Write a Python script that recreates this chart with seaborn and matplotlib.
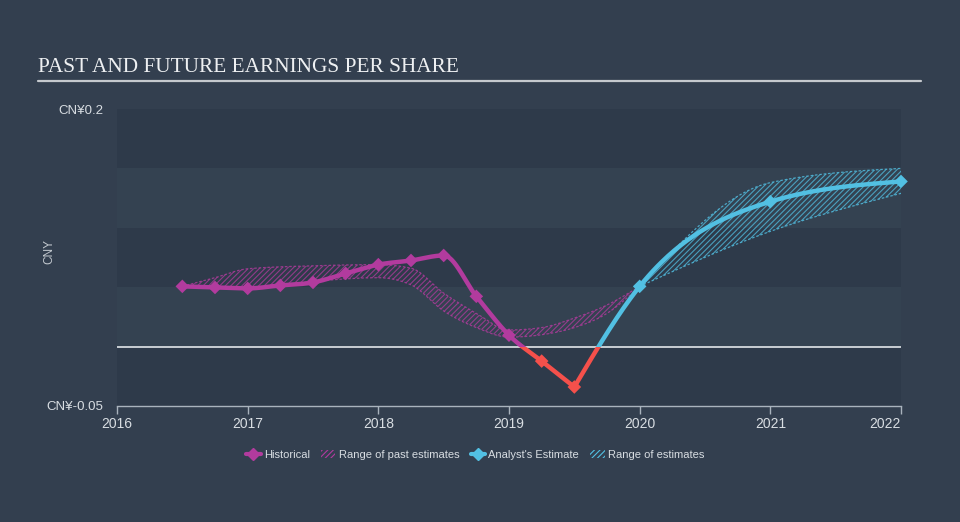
import numpy as np
import pandas as pd
import matplotlib
matplotlib.use("Agg")
import matplotlib.pyplot as plt
from matplotlib.lines import Line2D
from matplotlib.patches import Patch, Rectangle
import seaborn as sns

# ---------------- data ----------------
hist_x = [2016.5, 2016.75, 2017.0, 2017.25, 2017.5, 2017.75, 2018.0, 2018.25,
          2018.5, 2018.75, 2019.0, 2019.25, 2019.5]
hist_y = [0.0507, 0.0498, 0.049, 0.0515, 0.054, 0.0616, 0.069, 0.0725,
          0.0767, 0.0423, 0.0096, -0.0122, -0.034]

est_x = [2019.5, 2020.0, 2021.0, 2022.0]
est_y = [-0.034, 0.0507, 0.122, 0.139]

past_rng_x = [2016.5, 2016.75, 2017.0, 2017.5, 2018.0, 2018.25, 2018.5, 2018.75,
              2019.0, 2019.25, 2019.5, 2019.75, 2020.0]
past_rng_low = [0.0507, 0.050, 0.050, 0.055, 0.058, 0.052, 0.030, 0.016,
                0.008, 0.010, 0.016, 0.028, 0.0507]
past_rng_high = [0.0507, 0.058, 0.0655, 0.068, 0.069, 0.066, 0.045, 0.028,
                 0.014, 0.016, 0.024, 0.035, 0.0507]

fut_rng_x = [2020.0, 2021.0, 2022.0]
fut_rng_low = [0.0507, 0.097, 0.129]
fut_rng_high = [0.0507, 0.138, 0.150]

x_ticks = [2016, 2017, 2018, 2019, 2020, 2021, 2022]
y_ticks = [-0.05, 0.2]
y_tick_labels = ["CN¥-0.05", "CN¥0.2"]

title = "PAST AND FUTURE EARNINGS PER SHARE"
legend_labels = ["Historical", "Range of past estimates", "Analyst's Estimate", "Range of estimates"]

# ---------------- helpers ----------------
def monotone_x(x, y, n_per=60):
    """d3-style curveMonotoneX sampling through the given points."""
    x = np.asarray(x, float); y = np.asarray(y, float)
    n = len(x)
    if n < 3:
        return np.linspace(x[0], x[-1], n_per), np.linspace(y[0], y[-1], n_per)
    t = np.zeros(n)
    for i in range(1, n - 1):
        h0 = x[i] - x[i - 1]; h1 = x[i + 1] - x[i]
        s0 = (y[i] - y[i - 1]) / h0; s1 = (y[i + 1] - y[i]) / h1
        p = (s0 * h1 + s1 * h0) / (h0 + h1)
        t[i] = (np.sign(s0) + np.sign(s1)) * min(abs(s0), abs(s1), 0.5 * abs(p))
    h = x[1] - x[0]
    t[0] = (3 * (y[1] - y[0]) / h - t[1]) / 2
    h = x[-1] - x[-2]
    t[-1] = (3 * (y[-1] - y[-2]) / h - t[-2]) / 2
    xs, ys = [], []
    for i in range(n - 1):
        hh = x[i + 1] - x[i]
        s = np.linspace(0, 1, n_per, endpoint=(i == n - 2))
        h00 = 2 * s**3 - 3 * s**2 + 1
        h10 = s**3 - 2 * s**2 + s
        h01 = -2 * s**3 + 3 * s**2
        h11 = s**3 - s**2
        xs.append(x[i] + s * hh)
        ys.append(h00 * y[i] + h10 * hh * t[i] + h01 * y[i + 1] + h11 * hh * t[i + 1])
    return np.concatenate(xs), np.concatenate(ys)

# ---------------- style ----------------
BG = "#333f4f"
BAND_DARK = "#2e3a4a"
BAND_LIGHT = "#344251"
MAG = "#b23b9e"
BLUE = "#52c0e3"
RED = "#f5504b"
TXT = "#d8dde2"
AXC = "#a9b3bd"

sns.set_theme(style="dark")
plt.rcParams["font.family"] = ["Liberation Sans", "DejaVu Sans"]
plt.rcParams["hatch.linewidth"] = 0.8

fig = plt.figure(figsize=(9.6, 5.22), dpi=100, facecolor=BG)
ax = fig.add_axes([117 / 960, 1 - 406 / 522, (901 - 117) / 960, (406 - 109) / 522])
ax.set_facecolor(BG)

x0, x1 = 2016, 2022
y0, y1 = -0.05, 0.2
ax.set_xlim(x0, x1)
ax.set_ylim(y0, y1)

# background bands
for i, lo in enumerate(np.arange(-0.05, 0.2, 0.05)):
    ax.axhspan(lo, lo + 0.05, color=BAND_DARK if i % 2 == 0 else BAND_LIGHT, lw=0, zorder=0)

# zero line
ax.axhline(0, color="#c9ced3", lw=1.4, zorder=1)

# ranges
for rx, rl, rh, col in [(past_rng_x, past_rng_low, past_rng_high, MAG),
                        (fut_rng_x, fut_rng_low, fut_rng_high, BLUE)]:
    sx, sl = monotone_x(rx, rl)
    _, sh = monotone_x(rx, rh)
    ax.fill_between(sx, sl, sh, facecolor="none", edgecolor=col, hatch="//////",
                    lw=0, alpha=0.75, zorder=2)
    df_l = pd.DataFrame({"x": sx, "y": sl})
    df_h = pd.DataFrame({"x": sx, "y": sh})
    sns.lineplot(data=df_l, x="x", y="y", ax=ax, color=col, lw=0.9, alpha=0.8,
                 sort=False, estimator=None, zorder=2, linestyle=(0, (2, 1.5)))
    sns.lineplot(data=df_h, x="x", y="y", ax=ax, color=col, lw=0.9, alpha=0.8,
                 sort=False, estimator=None, zorder=2, linestyle=(0, (2, 1.5)))

pos_clip = Rectangle((x0 - 1, 0), (x1 - x0) + 2, 1, transform=ax.transData)
neg_clip = Rectangle((x0 - 1, -1), (x1 - x0) + 2, 1, transform=ax.transData)

# main lines
hx, hy = monotone_x(hist_x, hist_y)
ex, ey = monotone_x(est_x, est_y)
for cx, cy, col in [(hx, hy, MAG), (ex, ey, BLUE)]:
    df = pd.DataFrame({"x": cx, "y": cy})
    sns.lineplot(data=df, x="x", y="y", ax=ax, color=col, lw=3.2, sort=False,
                 estimator=None, zorder=4)
    ax.lines[-1].set_clip_path(pos_clip)
    ax.lines[-1].set_solid_capstyle("round")
    sns.lineplot(data=df, x="x", y="y", ax=ax, color=RED, lw=3.2, sort=False,
                 estimator=None, zorder=4)
    ax.lines[-1].set_clip_path(neg_clip)
    ax.lines[-1].set_solid_capstyle("round")

# markers
mk_h = pd.DataFrame({"x": hist_x, "y": hist_y})
mk_h["c"] = np.where(mk_h["y"] < 0, RED, MAG)
mk_e = pd.DataFrame({"x": est_x[1:], "y": est_y[1:]})
for df, default in [(mk_h, None), (mk_e, BLUE)]:
    cols = df["c"].tolist() if "c" in df else [default] * len(df)
    sns.scatterplot(data=df, x="x", y="y", ax=ax, marker="D", s=48,
                    c=cols, linewidth=0, zorder=5)
    ax.collections[-1].set_clip_on(False)

# axes styling
for s in ["top", "right", "left"]:
    ax.spines[s].set_visible(False)
ax.spines["bottom"].set_color(AXC)
ax.spines["bottom"].set_linewidth(1.0)
ax.set_xticks(x_ticks)
ax.set_xticklabels([str(v) for v in x_ticks])
ax.tick_params(axis="x", colors=AXC, length=6, width=1, direction="out",
               labelcolor=TXT, labelsize=10, pad=2, bottom=True)
xl = ax.get_xticklabels()
xl[-1].set_horizontalalignment("right")
ax.set_yticks(y_ticks)
ax.set_yticklabels(y_tick_labels)
ax.tick_params(axis="y", length=0, labelcolor=TXT, labelsize=9.5, pad=10)
ax.grid(False)
ax.set_xlabel("")
ax.set_ylabel("CNY", color="#c3c9cf", fontsize=8.5)
ax.yaxis.set_label_coords((55 - 117) / 784, 0.52)

# title and underline
fig.text(38 / 960, 1 - 67 / 522, title, color="#eef0f2", fontsize=15.3,
         family=["Liberation Serif", "DejaVu Serif"], va="center", ha="left")
fig.add_artist(Line2D([38 / 960, 921 / 960], [1 - 81 / 522, 1 - 81 / 522],
                      color="#c5c9ce", lw=1.6, transform=fig.transFigure))

# legend
handles = [
    Line2D([0], [0], color=MAG, lw=3, marker="D", markersize=6),
    Patch(facecolor="none", edgecolor=MAG, hatch="//////", lw=0),
    Line2D([0], [0], color=BLUE, lw=3, marker="D", markersize=6),
    Patch(facecolor="none", edgecolor=BLUE, hatch="//////", lw=0),
]
fig.legend(handles, legend_labels, loc="center", bbox_to_anchor=(0.495, 1 - 455 / 522),
           ncol=4, frameon=False, fontsize=8, labelcolor=TXT,
           handlelength=1.3, handletextpad=0.3, columnspacing=1.0,
           handleheight=0.8)

fig.savefig("out.png", dpi=100, facecolor=BG)
